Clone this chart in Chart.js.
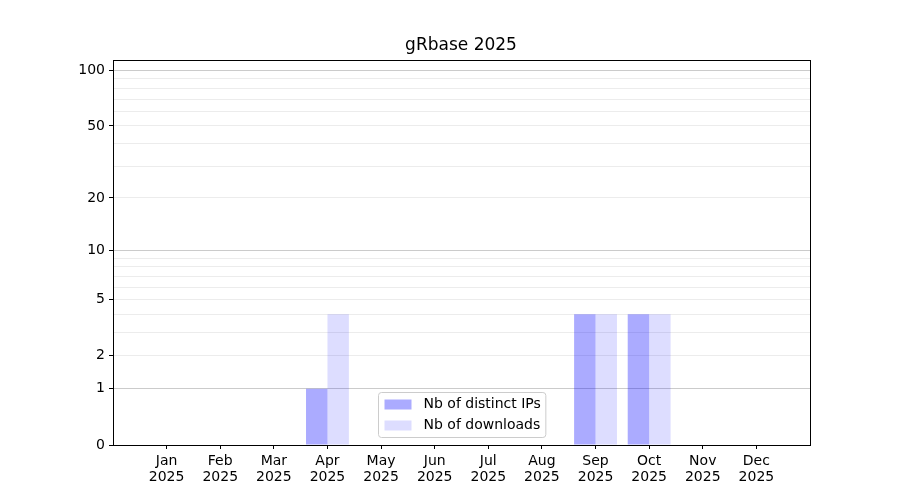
<!DOCTYPE html>
<html>
<head>
<meta charset="utf-8">
<script src="https://cdn.jsdelivr.net/npm/chart.js@4/dist/chart.umd.min.js"></script>
<style>
  body { margin: 0; background: #fff; }
  #wrap { width: 900px; height: 500px; }
</style>
</head>
<body>
<div id="wrap"><canvas id="myChart"></canvas></div>
<script>
var months = ["Jan", "Feb", "Mar", "Apr", "May", "Jun", "Jul", "Aug", "Sep", "Oct", "Nov", "Dec"];
var year = "2025";
var distinctIPs = [0, 0, 0, 1, 0, 0, 0, 0, 4, 4, 0, 0];
var downloads = [0, 0, 0, 4, 0, 0, 0, 0, 4, 4, 0, 0];
var yTickLabels = [0, 1, 2, 5, 10, 20, 50, 100];
var yGridValues = [0, 1, 2, 3, 4, 5, 6, 7, 8, 9, 10, 20, 30, 40, 50, 60, 70, 80, 90, 100];
var yMajor = [1, 10, 100];

// y axis is log(1 + n), so 0 can sit on the axis
function sym(v) { return v == null ? null : Math.log10(1 + v); }
function unsym(t) { return Math.round(Math.pow(10, t) - 1); }

var font = "'DejaVu Sans', sans-serif";
Chart.defaults.font.family = font;
Chart.defaults.font.size = 14;
Chart.defaults.color = "#000";

// empty slot on each side, like matplotlib's date margins
var labels = [""].concat(months.map(function (m) { return [m, year]; }), [""]);
function pad(arr) { return [null].concat(arr.map(sym), [null]); }

var frameAndLegend = {
  id: "frameAndLegend",
  afterDraw: function (chart) {
    var ctx = chart.ctx, a = chart.chartArea;
    ctx.save();
    ctx.strokeStyle = "#000";
    ctx.lineWidth = 1;
    ctx.strokeRect(Math.round(a.left) + 0.5, Math.round(a.top) + 0.5,
                   Math.round(a.right - a.left), Math.round(a.bottom - a.top));

    // legend inside the plot, lower centre
    ctx.font = "14px " + font;
    var sets = chart.data.datasets;
    var tw = 0;
    sets.forEach(function (d) { tw = Math.max(tw, ctx.measureText(d.label).width); });
    var w = 6 + 27 + 12 + tw + 5, h = 45;
    var x = Math.round((a.left + a.right) / 2 - w / 2) + 0.5;
    var y = Math.round(a.bottom - 8 - h) + 0.5;
    ctx.fillStyle = "rgba(255,255,255,0.8)";
    ctx.strokeStyle = "#cccccc";
    ctx.beginPath();
    ctx.roundRect(x, y, w, h, 3);
    ctx.fill();
    ctx.stroke();
    ctx.textBaseline = "middle";
    sets.forEach(function (d, i) {
      var cy = y + 12 + i * 21;
      ctx.fillStyle = d.backgroundColor;
      ctx.fillRect(x + 6, cy - 5, 27, 10);
      ctx.fillStyle = "#000";
      ctx.fillText(d.label, x + 45, cy);
    });
    ctx.restore();
  }
};

new Chart("myChart", {
  type: "bar",
  data: {
    labels: labels,
    datasets: [
      { label: "Nb of distinct IPs", data: pad(distinctIPs), backgroundColor: "rgba(0,0,255,0.33)" },
      { label: "Nb of downloads", data: pad(downloads), backgroundColor: "rgba(0,0,255,0.135)" }
    ]
  },
  options: {
    responsive: true,
    maintainAspectRatio: false,
    animation: false,
    // left padding shifts the title so it centres over the plot
    layout: { padding: { left: 22, right: 0, top: 0, bottom: 0 } },
    datasets: { bar: { categoryPercentage: 0.8, barPercentage: 1.0 } },
    plugins: {
      legend: { display: false },
      tooltip: { enabled: false },
      title: {
        display: true,
        text: "gRbase 2025",
        font: { size: 17, weight: "normal" },
        color: "#000",
        padding: { top: 35, bottom: 4.6 }
      }
    },
    scales: {
      x: {
        offset: false,
        grid: {
          offset: false,
          drawOnChartArea: false,
          tickLength: 4,
          tickColor: function (c) { return (c.index === 0 || c.index === labels.length - 1) ? "rgba(0,0,0,0)" : "#000"; }
        },
        border: { color: "#000" },
        ticks: { maxRotation: 0, autoSkip: false, padding: 5, font: { lineHeight: 1.1 } },
        afterFit: function (s) { s.height = 55; }
      },
      y: {
        min: 0,
        max: 2.06,
        afterBuildTicks: function (s) {
          s.ticks = yGridValues.map(function (v) { return { value: sym(v) }; });
        },
        ticks: {
          autoSkip: false,
          padding: 4,
          callback: function (t) {
            var v = unsym(t);
            return yTickLabels.indexOf(v) >= 0 ? String(v) : "";
          }
        },
        grid: {
          tickLength: 4,
          color: function (c) {
            var v = unsym(c.tick.value);
            if (v === 0) return "rgba(0,0,0,0)";
            return yMajor.indexOf(v) >= 0 ? "#cbcbcb" : "#ececec";
          },
          tickColor: function (c) {
            return yTickLabels.indexOf(unsym(c.tick.value)) >= 0 ? "#000" : "rgba(0,0,0,0)";
          }
        },
        border: { color: "#000" },
        afterFit: function (s) { s.width = 91; }
      },
      // empty right margin
      spacer: {
        position: "right",
        display: true,
        grid: { display: false },
        ticks: { display: false },
        border: { display: false },
        afterFit: function (s) { s.width = 90; }
      }
    }
  },
  plugins: [frameAndLegend]
});
</script>
</body>
</html>
